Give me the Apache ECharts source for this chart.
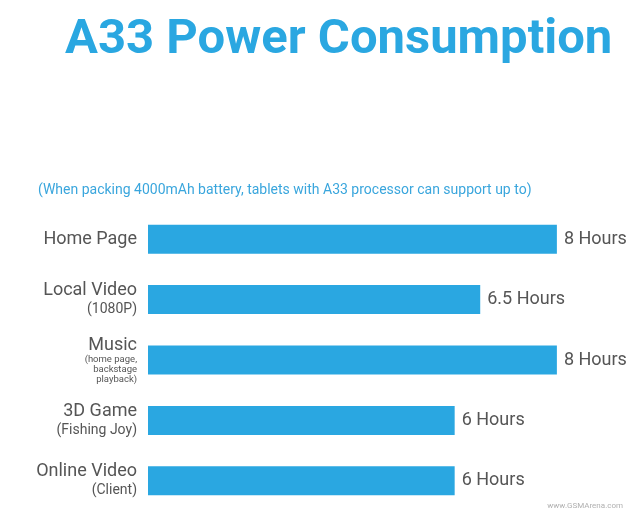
<!DOCTYPE html>
<html>
<head>
<meta charset="utf-8">
<script src="https://cdn.jsdelivr.net/npm/echarts@6/dist/echarts.min.js"></script>
<style>
  html, body { margin: 0; padding: 0; background: #fff; }
  #chart { width: 640px; height: 513px; }
</style>
</head>
<body>
<div id="chart"></div>
<script>
// data
const categories = ['Home Page', 'Local Video', 'Music', '3D Game', 'Online Video'];
const subLabels = [[], ['(1080P)'], ['(home page,', 'backstage', 'playback)'], ['(Fishing Joy)'], ['(Client)']];
const hours = [8, 6.5, 8, 6, 6];

const chart = echarts.init(document.getElementById('chart'));

const blue = '#2aa7e1';

const option = {
  backgroundColor: '#fff',
  title: [
    {
      text: 'A33 Power Consumption',
      left: 60,
      top: 11,
      textStyle: { color: blue, fontFamily: 'Roboto', fontWeight: 'bold', fontSize: 49 }
    },
    {
      text: '(When packing 4000mAh battery, tablets with A33 processor can support up to)',
      left: 33,
      top: 178,
      textStyle: { color: '#3aa6dd', fontFamily: 'Roboto', fontWeight: 'normal', fontSize: 14 }
    },
    {
      text: 'www.GSMArena.com',
      right: 12,
      top: 497,
      textStyle: { color: '#b0b0b0', fontFamily: 'Roboto', fontWeight: 'normal', fontSize: 8 }
    }
  ],
  grid: { left: 148, right: 32, top: 209, bottom: 2, containLabel: false },
  xAxis: {
    type: 'value',
    min: 0,
    max: 9,
    show: false
  },
  yAxis: {
    type: 'category',
    inverse: true,
    data: categories,
    axisLine: { show: false },
    axisTick: { show: false },
    axisLabel: {
      margin: 11,
      align: 'right',
      formatter: function (value) {
        const i = categories.indexOf(value);
        const style = value === 'Music' ? 'tiny' : 'sub';
        let s = '{main|' + value + '}';
        subLabels[i].forEach(t => { s += '\n{' + style + '|' + t + '}'; });
        return s;
      },
      rich: {
        main: { fontFamily: 'Roboto', fontSize: 18, color: '#555', lineHeight: 20, align: 'right' },
        sub: { fontFamily: 'Roboto', fontSize: 14, color: '#555', lineHeight: 18, align: 'right' },
        tiny: { fontFamily: 'Roboto', fontSize: 9.5, color: '#555', lineHeight: 10, align: 'right' }
      }
    }
  },
  series: [
    {
      type: 'bar',
      data: hours,
      barWidth: 29,
      itemStyle: { color: blue },
      label: {
        show: true,
        position: 'right',
        distance: 7,
        formatter: p => p.value + ' Hours',
        fontFamily: 'Roboto',
        fontSize: 18,
        color: '#555'
      }
    }
  ]
};

chart.setOption(option);
</script>
</body>
</html>
